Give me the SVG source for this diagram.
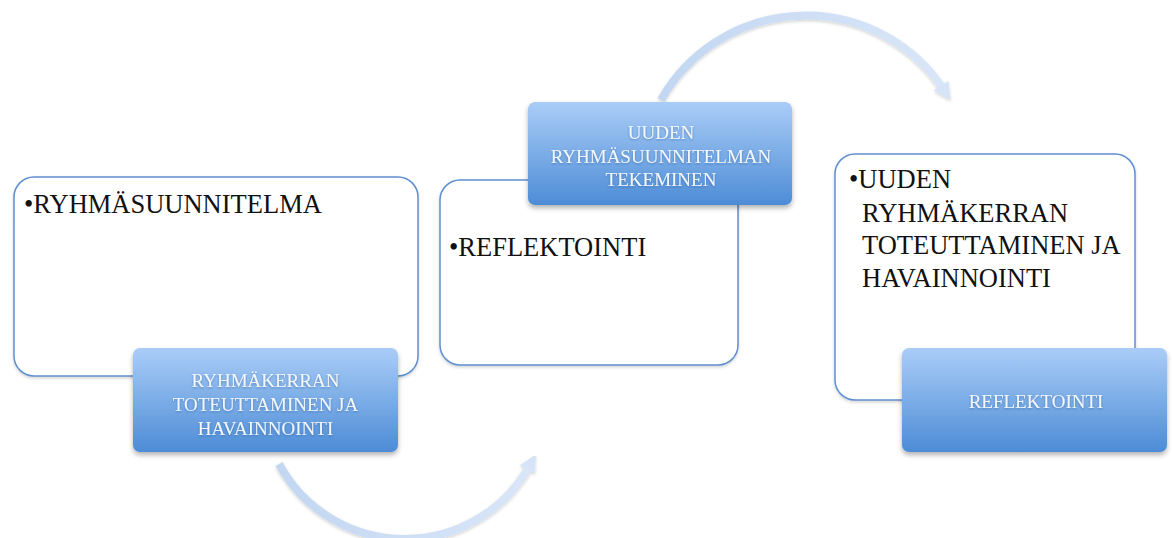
<svg xmlns="http://www.w3.org/2000/svg" width="1172" height="538" viewBox="0 0 1172 538">
<defs>
<linearGradient id="blueGrad" x1="0" y1="0" x2="0" y2="1">
<stop offset="0" stop-color="#aacdf7"/>
<stop offset="1" stop-color="#4d8cd6"/>
</linearGradient>
<linearGradient id="arcGrad" x1="0" y1="0" x2="1" y2="0">
<stop offset="0" stop-color="#c3d7f2"/>
<stop offset="1" stop-color="#d9e6f8"/>
</linearGradient>
<filter id="shadow" x="-10%" y="-10%" width="120%" height="130%">
<feDropShadow dx="0" dy="3" stdDeviation="2.5" flood-color="#000" flood-opacity="0.3"/>
</filter>
<filter id="softShadow" x="-10%" y="-10%" width="120%" height="130%">
<feDropShadow dx="0" dy="1.5" stdDeviation="1.5" flood-color="#000" flood-opacity="0.18"/>
</filter>
<filter id="txtShadow" x="-10%" y="-20%" width="120%" height="150%">
<feDropShadow dx="0" dy="1" stdDeviation="0.8" flood-color="#1d4f8f" flood-opacity="0.5"/>
</filter>
<marker id="arrowHead" viewBox="0 0 10 10" refX="3" refY="5" markerWidth="2.2" markerHeight="2.2" orient="auto" markerUnits="strokeWidth">
<path d="M0,0 L10,5 L0,10 Z" fill="#d6e4f7"/>
</marker>
</defs>
<style>
.panel { fill: #ffffff; stroke: #5f8fcf; stroke-width: 1.5; filter: url(#softShadow); }
.tag { fill: url(#blueGrad); filter: url(#shadow); }
.bodyText { font-family: "Liberation Serif", "DejaVu Serif", serif; font-size: 26.5px; fill: #111111; }
.tagText { font-family: "Liberation Serif", "DejaVu Serif", serif; font-size: 19px; fill: #f2f7fd; text-anchor: middle; filter: url(#txtShadow); }
.arc { fill: none; stroke: url(#arcGrad); stroke-width: 8; stroke-linecap: butt; filter: url(#softShadow); }
</style>

<g id="connectors">
<path class="arc" d="M279,464 A143,143 0 0 0 530,465" marker-end="url(#arrowHead)"/>
<path class="arc" d="M661,100 A166,166 0 0 1 944,90" marker-end="url(#arrowHead)"/>
</g>

<g id="node1">
<rect class="panel" x="14" y="177" width="404" height="199" rx="20" ry="20"/>
<text class="bodyText" x="24" y="213">•RYHMÄSUUNNITELMA</text>
<rect class="tag" x="133" y="348" width="265" height="104" rx="7" ry="7"/>
<text class="tagText" x="265.5" y="387">RYHMÄKERRAN</text>
<text class="tagText" x="265.5" y="411">TOTEUTTAMINEN JA</text>
<text class="tagText" x="265.5" y="435">HAVAINNOINTI</text>
</g>

<g id="node2">
<rect class="panel" x="440" y="180" width="298" height="185" rx="20" ry="20"/>
<text class="bodyText" x="449" y="256">•REFLEKTOINTI</text>
<rect class="tag" x="528" y="102" width="264" height="103" rx="7" ry="7"/>
<text class="tagText" x="661" y="139">UUDEN</text>
<text class="tagText" x="661" y="163">RYHMÄSUUNNITELMAN</text>
<text class="tagText" x="661" y="186">TEKEMINEN</text>
</g>

<g id="node3">
<rect class="panel" x="835" y="154" width="300" height="246" rx="20" ry="20"/>
<text class="bodyText" x="849" y="188">•UUDEN</text>
<text class="bodyText" x="862" y="222">RYHMÄKERRAN</text>
<text class="bodyText" x="862" y="254">TOTEUTTAMINEN JA</text>
<text class="bodyText" x="862" y="287">HAVAINNOINTI</text>
<rect class="tag" x="902" y="348" width="265" height="104" rx="7" ry="7"/>
<text class="tagText" x="1036" y="408">REFLEKTOINTI</text>
</g>
</svg>
